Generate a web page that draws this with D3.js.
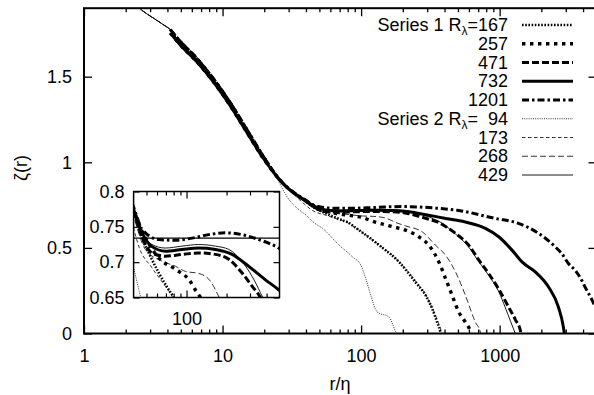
<!DOCTYPE html>
<html><head><meta charset="utf-8">
<script src="https://cdn.jsdelivr.net/npm/d3@7"></script>
<style>
body{margin:0;background:#fff}
svg text{font-family:"Liberation Sans",Arial,Helvetica,sans-serif;fill:#000}
</style>
</head><body>
<svg id="chart" width="594" height="395"></svg>
<script>
// ---------- data (r/eta, zeta) ----------
const headS2 = [[2.3,1.93],[2.6,1.89],[3.2,1.84],[3.8,1.80],[4.2,1.775],[4.9,1.70],[6.47,1.60],[8.5,1.484],[11.2,1.347],[14.8,1.19],[19.5,1.034]];
const headS1upper = [[4.2,1.775],[4.9,1.71],[6.47,1.61],[8.5,1.493],[11.2,1.356],[14.8,1.198],[19.5,1.04]];
const headS1lower = [[4.2,1.755],[4.9,1.69],[6.47,1.59],[8.5,1.475],[11.2,1.338],[14.8,1.182],[19.5,1.028]];

const tail167 = [[25.7,0.90],[30,0.845],[33.9,0.812],[40,0.772],[46,0.735],[52,0.713],[61.8,0.685],[73.5,0.661],[80,0.65],[91.6,0.617],[134.7,0.516],[187.6,0.418],[247,0.30],[292,0.223],[326,0.145],[354,0.066],[374,0.008],[376,0]];
const tail257 = [[25.7,0.90],[30,0.845],[33.9,0.812],[40,0.774],[46,0.745],[52,0.726],[61.8,0.706],[82.4,0.69],[104,0.6755],[120,0.657],[168,0.624],[209,0.604],[261,0.565],[308,0.516],[364,0.418],[407,0.321],[454,0.223],[507,0.125],[566,0.066],[615,0.008],[618,0]];
const tail471 = [[25.7,0.90],[30,0.845],[33.9,0.812],[40,0.772],[46,0.737],[55,0.713],[69,0.7085],[92.5,0.711],[123.5,0.713],[165,0.711],[208,0.704],[261,0.685],[311,0.666],[359,0.65],[407,0.625],[480,0.585],[598,0.516],[706,0.43],[833,0.35],[984,0.26],[1161,0.154],[1300,0.08],[1409,0.02],[1420,0]];
const tail732 = [[25.7,0.90],[30,0.845],[33.9,0.812],[40,0.774],[46,0.743],[55,0.722],[69.3,0.7156],[92.5,0.718],[123.5,0.72],[165,0.718],[220,0.711],[294,0.694],[392,0.675],[493,0.661],[566,0.651],[789,0.614],[984,0.565],[1228,0.487],[1449,0.418],[1808,0.36],[2254,0.272],[2656,0.154],[2885,0.037],[2930,0]];
const tail1201 = [[25.7,0.90],[30,0.847],[33.9,0.815],[40,0.778],[46.2,0.747],[61.8,0.732],[82.4,0.731],[110,0.734],[146.8,0.739],[196,0.7415],[261,0.739],[349,0.732],[493,0.72],[931,0.672],[1370,0.643],[1909,0.585],[2517,0.506],[2806,0.467],[3135,0.409],[3500,0.37],[3910,0.311],[4130,0.272],[4613,0.2],[5000,0.14]];

const tail94 = [[24.5,0.91],[30.3,0.78],[36,0.72],[40,0.692],[42.3,0.673],[45,0.652],[52.7,0.614],[69.5,0.516],[86.5,0.448],[99.5,0.399],[108,0.321],[117.4,0.223],[131,0.125],[159,0.096],[178,0.008],[180,0]];
const tail173 = [[25.7,0.895],[30,0.84],[33.9,0.80],[40,0.748],[43.7,0.7227],[55,0.692],[69.3,0.666],[77.8,0.652],[92,0.615],[134,0.52],[188,0.42],[250,0.30],[295,0.22],[330,0.14],[360,0.065],[380,0.01],[383,0]];
const tail268 = [[25.7,0.90],[30,0.845],[33.9,0.81],[40,0.765],[49,0.718],[65.5,0.7014],[82.4,0.6943],[98,0.687],[123.5,0.684],[147,0.676],[165,0.661],[176,0.65],[210,0.628],[276,0.594],[344,0.516],[407,0.457],[480,0.36],[566,0.223],[668,0.066],[726,0.008],[730,0]];
const tail429 = [[25.7,0.90],[30,0.845],[33.9,0.812],[40,0.768],[46,0.742],[55,0.725],[69,0.72],[92.5,0.7227],[123.5,0.725],[165,0.7227],[208,0.718],[261,0.701],[311,0.68],[359,0.657],[380,0.647],[450,0.60],[598,0.505],[706,0.42],[833,0.34],[984,0.245],[1100,0.15],[1200,0.07],[1297,0]];

const refLevel = [0.734];

const labels1 = ["167","257","471","732","1201"];
const labels2 = ["94","173","268","429"];
const xMajor = [1,10,100,1000];
const yMajor = [0,0.5,1,1.5];
const insetYTicks = [0.65,0.7,0.75,0.8];
const insetXMajor = [100];

// ---------- series ----------
const series = [
  {lab:labels1[0], pts:headS1upper.concat(tail167), w:2.6, dash:"1.6,1.6"},
  {lab:labels1[1], pts:headS1lower.concat(tail257), w:3.4, dash:"3.4,4.6"},
  {lab:labels1[2], pts:headS1upper.concat(tail471), w:3, dash:"7,3"},
  {lab:labels1[3], pts:headS1lower.concat(tail732), w:3, dash:null},
  {lab:labels1[4], pts:headS1upper.concat(tail1201), w:3, dash:"7,3,2.5,3"},
  {lab:labels2[0], pts:headS2.concat(tail94), w:0.8, dash:"1,1.2"},
  {lab:labels2[1], pts:headS2.concat(tail173), w:0.8, dash:"3.5,2.5"},
  {lab:labels2[2], pts:headS2.concat(tail268), w:0.8, dash:"6,3"},
  {lab:labels2[3], pts:headS2.concat(tail429), w:0.9, dash:null}
];

const svg = d3.select("#chart");
const L=84, T=8.2, R=596.5, B=333.5;
const x = d3.scaleLog().domain([1,5000]).range([L,R]);
const y = d3.scaleLinear().domain([0,1.9]).range([B,T]);

const defs = svg.append("defs");
defs.append("clipPath").attr("id","mainclip").append("rect")
  .attr("x",L).attr("y",T).attr("width",R-L).attr("height",B-T);

// main curves
const gMain = svg.append("g").attr("clip-path","url(#mainclip)");
const lineMain = d3.line().x(d=>x(d[0])).y(d=>y(d[1])).curve(d3.curveMonotoneX);
const drawOrder = [5,6,7,8,0,1,2,3,4];
function styleLine(sel, s){
  sel.attr("fill","none").attr("stroke","#000").attr("stroke-width",s.w)
    .attr("stroke-dasharray",s.dash).attr("stroke-linejoin","round");
}
drawOrder.forEach(i=>{
  const s=series[i];
  gMain.append("path").datum(s.pts).attr("d",lineMain).call(styleLine,s);
});

// main axes
const minorX = x.ticks().filter(v=>xMajor.indexOf(v)<0);
function clean(g){ g.select(".domain").remove(); }
svg.append("g").attr("transform",`translate(0,${B})`)
  .call(d3.axisBottom(x).tickValues(xMajor).tickFormat(d3.format("d")).tickSize(-8).tickPadding(16))
  .call(clean).call(g=>g.selectAll("text").attr("font-size",18).attr("font-family",null));
svg.append("g").attr("transform",`translate(0,${B})`)
  .call(d3.axisBottom(x).tickValues(minorX).tickFormat("").tickSize(-4)).call(clean);
svg.append("g").attr("transform",`translate(0,${T})`)
  .call(d3.axisTop(x).tickValues(xMajor).tickFormat("").tickSize(-8)).call(clean);
svg.append("g").attr("transform",`translate(0,${T})`)
  .call(d3.axisTop(x).tickValues(minorX).tickFormat("").tickSize(-4)).call(clean);
svg.append("g").attr("transform",`translate(${L},0)`)
  .call(d3.axisLeft(y).tickValues(yMajor).tickFormat(d3.format("")).tickSize(-8).tickPadding(12))
  .call(clean).call(g=>g.selectAll("text").attr("font-size",18).attr("font-family",null));
svg.append("g").attr("transform",`translate(${R},0)`)
  .call(d3.axisRight(y).tickValues(yMajor).tickFormat("").tickSize(-8)).call(clean);
svg.selectAll(".tick line").attr("stroke","#000").attr("stroke-width",1.3);

svg.append("rect").attr("x",L).attr("y",T).attr("width",R-L).attr("height",B-T)
  .attr("fill","none").attr("stroke","#000").attr("stroke-width",2);

// axis titles
svg.append("text").attr("x",340).attr("y",390).attr("text-anchor","middle").attr("font-size",18).text("r/η");
svg.append("text").attr("transform","translate(27,168) rotate(-90)").attr("text-anchor","middle").attr("font-size",18).text("ζ(r)");

// legend
const legX1=508, lineX0=522, lineX1=573, legY0=25, legDY=18.75;
series.forEach((s,i)=>{
  const yy = legY0 + i*legDY;
  const t = svg.append("text").attr("x",legX1).attr("y",yy+6).attr("text-anchor","end").attr("font-size",18);
  if(i===0 || i===5){
    t.append("tspan").text(i===0?"Series 1 R":"Series 2 R");
    t.append("tspan").attr("font-size",12).attr("dy",4).text("λ");
    t.append("tspan").attr("dy",-4).text(i===0?"=":"=\u00a0\u00a0");
  }
  t.append("tspan").text(s.lab);
  svg.append("path").datum([[lineX0,yy],[lineX1,yy]]).attr("d",d3.line()).call(styleLine,s);
});

// ---------- inset ----------
const iL=133.6, iR=279.5, iT=191.5, iB=297.5;
const xi = d3.scaleLog().domain([40,500]).range([iL,iR]);
const yi = d3.scaleLinear().domain([0.65,0.8]).range([iB,iT]);
svg.append("rect").attr("x",iL).attr("y",iT).attr("width",iR-iL).attr("height",iB-iT).attr("fill","#fff");
defs.append("clipPath").attr("id","insetclip").append("rect")
  .attr("x",iL).attr("y",iT).attr("width",iR-iL).attr("height",iB-iT);
const gIn = svg.append("g").attr("clip-path","url(#insetclip)");
const lineIn = d3.line().x(d=>xi(d[0])).y(d=>yi(d[1])).curve(d3.curveMonotoneX);
drawOrder.forEach(i=>{
  const s=series[i];
  gIn.append("path").datum(s.pts).attr("d",lineIn).call(styleLine,s);
});
gIn.selectAll(null).data(refLevel).enter().append("line")
  .attr("x1",iL).attr("x2",iR).attr("y1",d=>yi(d)).attr("y2",d=>yi(d))
  .attr("stroke","#000").attr("stroke-width",1.2);

const inMinor = xi.ticks().filter(v=>insetXMajor.indexOf(v)<0 && v>40 && v<500);
const gi = svg.append("g");
gi.append("g").attr("transform",`translate(0,${iB})`)
  .call(d3.axisBottom(xi).tickValues(insetXMajor).tickFormat(d3.format("d")).tickSize(-7).tickPadding(15))
  .call(clean).call(g=>g.selectAll("text").attr("font-size",18).attr("font-family",null));
gi.append("g").attr("transform",`translate(0,${iB})`)
  .call(d3.axisBottom(xi).tickValues(inMinor).tickFormat("").tickSize(-4)).call(clean);
gi.append("g").attr("transform",`translate(0,${iT})`)
  .call(d3.axisTop(xi).tickValues(insetXMajor).tickFormat("").tickSize(-7)).call(clean);
gi.append("g").attr("transform",`translate(0,${iT})`)
  .call(d3.axisTop(xi).tickValues(inMinor).tickFormat("").tickSize(-4)).call(clean);
gi.append("g").attr("transform",`translate(${iL},0)`)
  .call(d3.axisLeft(yi).tickValues(insetYTicks).tickFormat(d3.format("")).tickSize(-6).tickPadding(9))
  .call(clean).call(g=>g.selectAll("text").attr("font-size",18).attr("font-family",null));
gi.append("g").attr("transform",`translate(${iR},0)`)
  .call(d3.axisRight(yi).tickValues(insetYTicks).tickFormat("").tickSize(-6)).call(clean);
gi.selectAll(".tick line").attr("stroke","#000").attr("stroke-width",1.2);
svg.append("rect").attr("x",iL).attr("y",iT).attr("width",iR-iL).attr("height",iB-iT)
  .attr("fill","none").attr("stroke","#000").attr("stroke-width",1.5);
</script>
</body></html>
